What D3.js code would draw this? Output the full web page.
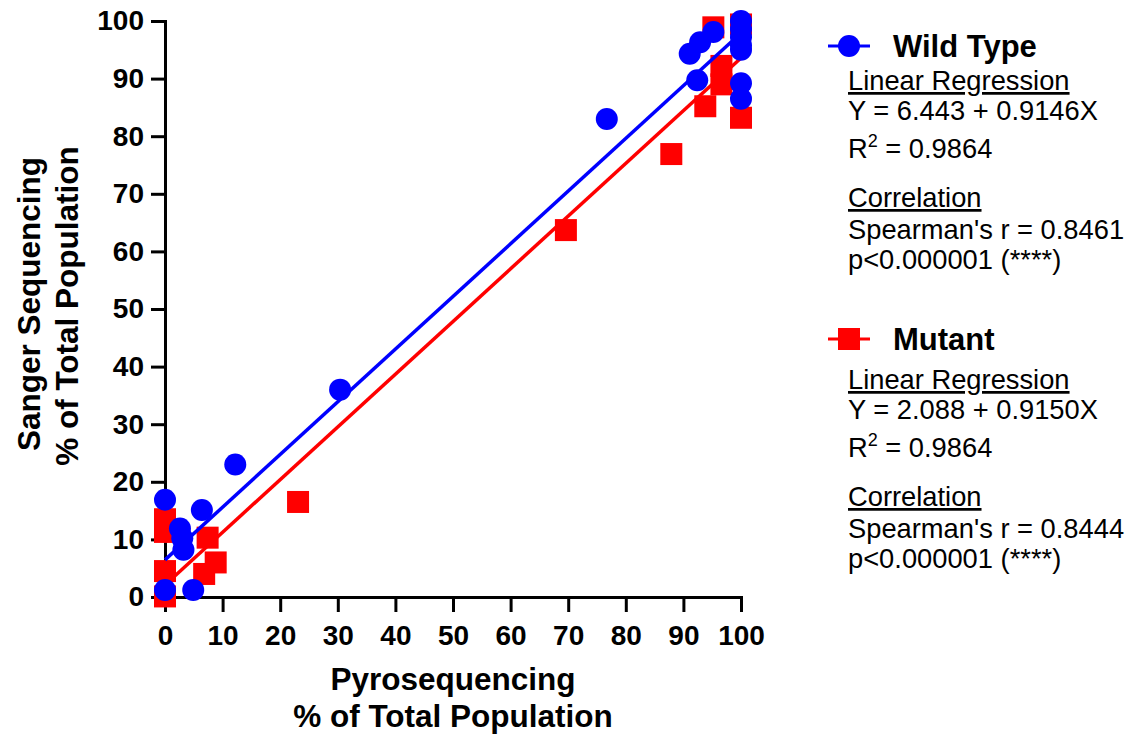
<!DOCTYPE html>
<html>
<head>
<meta charset="utf-8">
<script src="https://cdn.jsdelivr.net/npm/d3@7"></script>
<style>
  body { margin: 0; background: #fff; }
  text { font-family: "Liberation Sans", Arial, sans-serif; }
</style>
</head>
<body>
<div id="chart-area"></div>
<script>
// wild type (blue circles)
var wtX = [0, 4.9, 0, 6.4, 2.6, 3.0, 3.2, 12.2, 30.4, 76.7, 91.1, 92.9, 95.2, 92.4, 100, 100, 100, 100, 100, 100, 100];
var wtY = [1.2, 1.2, 16.9, 15.1, 11.9, 10.2, 8.2, 23.0, 36.0, 83.0, 94.3, 96.3, 98.1, 89.7, 100, 98.6, 97.2, 95.8, 95.0, 89.2, 86.5];
// mutant (red squares)
var mtX = [0, 0, 0, 0, 7.4, 8.8, 6.8, 23.1, 69.6, 87.9, 93.8, 95.2, 96.6, 96.6, 100, 100];
var mtY = [13.5, 11.3, 4.5, 0.1, 10.3, 6.0, 4.0, 16.5, 63.7, 76.9, 85.2, 98.9, 92.2, 89.0, 99.4, 83.2];

// regression fits: intercept, slope
var wtFit = [6.443, 0.9146];
var mtFit = [2.088, 0.9150];

var xTicks = [0, 10, 20, 30, 40, 50, 60, 70, 80, 90, 100];
var yTicks = [0, 10, 20, 30, 40, 50, 60, 70, 80, 90, 100];

var seriesNames = ["Wild Type", "Mutant"];
var wtStats = ["Y = 6.443 + 0.9146X", "0.9864", "Spearman's r = 0.8461", "p<0.000001 (****)"];
var mtStats = ["Y = 2.088 + 0.9150X", "0.9864", "Spearman's r = 0.8444", "p<0.000001 (****)"];

var W = 1125, H = 735;
var svg = d3.select("#chart-area").append("svg")
    .attr("width", W)
    .attr("height", H);

var x = d3.scaleLinear().domain([0, 100]).range([165, 741]);
var y = d3.scaleLinear().domain([0, 100]).range([597, 21]);

var blue = "#0000ff", red = "#ff0000";

// axes
var xAxis = svg.append("g")
    .attr("transform", "translate(0," + y(0) + ")")
    .call(d3.axisBottom(x).tickValues(xTicks).tickSize(15).tickSizeOuter(0).tickPadding(13));
var yAxis = svg.append("g")
    .attr("transform", "translate(" + x(0) + ",0)")
    .call(d3.axisLeft(y).tickValues(yTicks).tickSize(14).tickSizeOuter(0).tickPadding(7));

[xAxis, yAxis].forEach(function(a) {
  a.selectAll("path, line").attr("stroke", "#000").attr("stroke-width", 3);
  a.select(".domain").attr("stroke-linecap", "square");
  a.selectAll("text")
    .attr("fill", "#000")
    .style("font-size", "28px")
    .style("font-weight", "bold")
    .style("font-family", "'Liberation Sans', Arial, sans-serif");
});

// axis titles
var titleSize = "31.5px";
svg.append("text")
    .attr("x", 453).attr("y", 690)
    .attr("text-anchor", "middle")
    .style("font-size", titleSize).style("font-weight", "bold")
    .text("Pyrosequencing");
svg.append("text")
    .attr("x", 453).attr("y", 727)
    .attr("text-anchor", "middle")
    .style("font-size", titleSize).style("font-weight", "bold")
    .text("% of Total Population");
svg.append("text")
    .attr("transform", "translate(40,304) rotate(-90)")
    .attr("text-anchor", "middle")
    .style("font-size", titleSize).style("font-weight", "bold")
    .text("Sanger Sequencing");
svg.append("text")
    .attr("transform", "translate(78,306) rotate(-90)")
    .attr("text-anchor", "middle")
    .style("font-size", titleSize).style("font-weight", "bold")
    .text("% of Total Population");

// data
var wt = wtX.map(function(d, i) { return {x: d, y: wtY[i]}; });
var mt = mtX.map(function(d, i) { return {x: d, y: mtY[i]}; });

var sq = 22, r = 11;

svg.append("g").selectAll("rect")
    .data(mt).enter().append("rect")
    .attr("x", function(d) { return x(d.x) - sq / 2; })
    .attr("y", function(d) { return y(d.y) - sq / 2; })
    .attr("width", sq).attr("height", sq)
    .attr("fill", red);

function fitLine(fit, color) {
  var ends = [0, 100];
  svg.append("line")
      .attr("x1", x(ends[0])).attr("y1", y(fit[0] + fit[1] * ends[0]))
      .attr("x2", x(ends[1])).attr("y2", y(fit[0] + fit[1] * ends[1]))
      .attr("stroke", color).attr("stroke-width", 3.5);
}
fitLine(mtFit, red);
fitLine(wtFit, blue);

svg.append("g").selectAll("circle")
    .data(wt).enter().append("circle")
    .attr("cx", function(d) { return x(d.x); })
    .attr("cy", function(d) { return y(d.y); })
    .attr("r", r)
    .attr("fill", blue);

// legend
function legendBlock(top, name, stats, color, shape, titleShift) {
  var g = svg.append("g").attr("transform", "translate(0," + top + ")");
  g.append("line")
      .attr("x1", 828).attr("x2", 870).attr("y1", 46 + titleShift).attr("y2", 46 + titleShift)
      .attr("stroke", color).attr("stroke-width", 3);
  if (shape == "circle") {
    g.append("circle").attr("cx", 849).attr("cy", 46 + titleShift).attr("r", r).attr("fill", color);
  } else {
    g.append("rect").attr("x", 849 - sq / 2).attr("y", 46 + titleShift - sq / 2)
        .attr("width", sq).attr("height", sq).attr("fill", color);
  }
  g.append("text")
      .attr("x", 893).attr("y", 57 + titleShift)
      .style("font-size", "31px").style("font-weight", "bold")
      .text(name);

  var body = function(yy, t) {
    return g.append("text").attr("x", 848).attr("y", yy).style("font-size", "27.3px").text(t);
  };
  body(90, "Linear Regression").style("text-decoration", "underline");
  body(120, stats[0]);
  var r2 = body(158, "R");
  r2.append("tspan").attr("dy", -11).style("font-size", "18px").text("2");
  r2.append("tspan").attr("dy", 11).text(" = " + stats[1]);
  body(207, "Correlation").style("text-decoration", "underline");
  body(239, stats[2]);
  body(269, stats[3]);
}
legendBlock(0, seriesNames[0], wtStats, blue, "circle", 0);
legendBlock(299, seriesNames[1], mtStats, red, "square", -6);
</script>
</body>
</html>
